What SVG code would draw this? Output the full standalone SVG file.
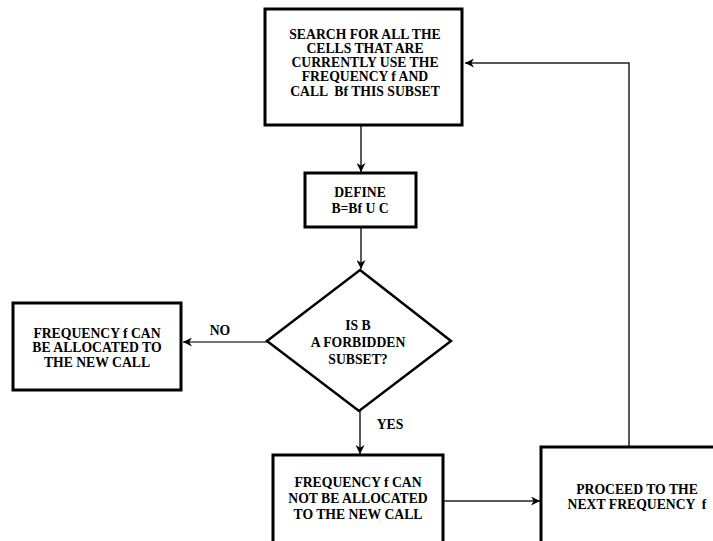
<svg xmlns="http://www.w3.org/2000/svg" width="713" height="541" viewBox="0 0 713 541">
<style>
.box{fill:#fff;stroke:#000;stroke-width:3}
.dia{fill:#fff;stroke:#000;stroke-width:2.5}
.ln{fill:none;stroke:#222;stroke-width:1.5}
.thin{stroke:#444;stroke-width:1.3}
text{font-family:"Liberation Serif","Times New Roman",serif;font-weight:bold;font-size:13.7px;fill:#000;text-anchor:middle}
</style>
<defs>
<marker id="ah" viewBox="0 0 10 10" refX="10" refY="5" markerWidth="9" markerHeight="9" markerUnits="userSpaceOnUse" orient="auto">
<path d="M0,0 L10,5 L0,10 L3,5 Z" fill="#000"/>
</marker>
</defs>
<rect x="0" y="0" width="713" height="541" fill="#fff"/>
<g id="connectors">
<line class="ln" x1="361" y1="125" x2="361" y2="172" marker-end="url(#ah)"/>
<line class="ln" x1="361" y1="227" x2="361" y2="269" marker-end="url(#ah)"/>
<line class="ln thin" x1="267" y1="342" x2="183" y2="342" marker-end="url(#ah)"/>
<line class="ln" x1="360" y1="411" x2="360" y2="454" marker-end="url(#ah)"/>
<line class="ln" x1="443" y1="501" x2="540" y2="501" marker-end="url(#ah)"/>
<polyline class="ln" points="629,447 629,63 465,63" marker-end="url(#ah)"/>
<text x="220" y="335">NO</text>
<text x="390" y="429">YES</text>
</g>
<g id="search">
<rect class="box" x="265" y="9" width="197" height="116"/>
<text x="365" y="39">SEARCH FOR ALL THE</text>
<text x="365" y="53">CELLS THAT ARE</text>
<text x="365" y="67">CURRENTLY USE THE</text>
<text x="365" y="81">FREQUENCY f AND</text>
<text x="365" y="96" xml:space="preserve">CALL  Bf THIS SUBSET</text>
</g>
<g id="define">
<rect class="box" x="305" y="173" width="111" height="54"/>
<text x="360" y="197">DEFINE</text>
<text x="360" y="213">B=Bf U C</text>
</g>
<g id="decision">
<polygon class="dia" points="360,270 451,341 359,411 267,341"/>
<text x="358" y="330">IS B</text>
<text x="358" y="347">A FORBIDDEN</text>
<text x="358" y="364">SUBSET?</text>
</g>
<g id="allocated">
<rect class="box" x="13" y="303" width="168" height="87"/>
<text x="97" y="338">FREQUENCY f CAN</text>
<text x="97" y="352">BE ALLOCATED TO</text>
<text x="97" y="367">THE NEW CALL</text>
</g>
<g id="notallocated">
<rect class="box" x="273" y="455" width="170" height="95"/>
<text x="358" y="487">FREQUENCY f CAN</text>
<text x="358" y="503">NOT BE ALLOCATED</text>
<text x="358" y="519">TO THE NEW CALL</text>
</g>
<g id="proceed">
<rect class="box" x="541" y="447" width="190" height="110"/>
<text x="637" y="494">PROCEED TO THE</text>
<text x="637" y="509" xml:space="preserve">NEXT FREQUENCY  f</text>
</g>
</svg>
